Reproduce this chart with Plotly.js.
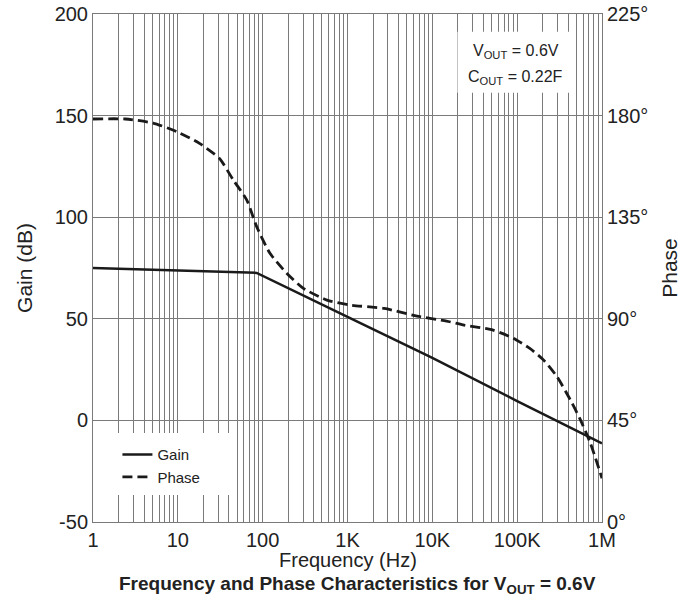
<!DOCTYPE html>
<html>
<head>
<meta charset="utf-8">
<script src="https://cdn.plot.ly/plotly-3.0.1.min.js"></script>
<style>html,body{margin:0;padding:0;background:#fff;}#chart{width:695px;height:602px;}</style>
</head>
<body>
<div id="chart"></div>
<script>
// Gain curve (dB) vs frequency (Hz)
var gainFreq = [1, 85, 1000, 10000, 100000, 1000000];
var gainDb   = [75, 72.6, 51, 30.8, 9.5, -11.3];

// Phase curve (degrees) vs frequency (Hz)
var phaseFreq = [1, 2.4, 5.1, 9.7, 18, 31, 45, 65, 85, 122, 192, 302, 572, 1070, 2700, 6600, 14700, 23000, 52000, 90000, 141000, 204000, 294000, 425000, 557000, 730000, 1000000];
var phaseDeg  = [178.5, 178.5, 176.7, 172.9, 167.7, 161, 151.5, 142.6, 130.8, 119, 110.2, 103.5, 98.3, 96.1, 94.6, 91.2, 89, 87.3, 85, 81.4, 76.9, 71.8, 64.4, 54, 45.2, 34.9, 19.4];

// Axis ticks
var decadeVals = [1, 10, 100, 1000, 10000, 100000, 1000000];
var decadeText = ['1', '10', '100', '1K', '10K', '100K', '1M'];
var gainTicks  = [-50, 0, 50, 100, 150, 200];
var gainText   = ['-50', '0', '50', '100', '150', '200'];
var phaseTicks = [0, 45, 90, 135, 180, 225];
var phaseText  = ['0°', '45°', '90°', '135°', '180°', '225°'];

var xVals = [], xText = [];
for (var d = 0; d < decadeVals.length; d++) {
  xVals.push(decadeVals[d]); xText.push(decadeText[d]);
  if (d < decadeVals.length - 1) {
    for (var m = 2; m <= 9; m++) { xVals.push(decadeVals[d] * m); xText.push(''); }
  }
}

var font = 'Liberation Sans, Arial, sans-serif';
var grid = '#7a7a7a';
var txt = '#222';

var traces = [
  {x: gainFreq, y: gainDb, type: 'scatter', mode: 'lines', name: 'Gain',
   line: {color: '#1a1a1a', width: 2.5}, yaxis: 'y'},
  {x: phaseFreq, y: phaseDeg, type: 'scatter', mode: 'lines', name: 'Phase',
   line: {color: '#1a1a1a', width: 2.8, dash: '10px,5px', shape: 'spline', smoothing: 0.6}, yaxis: 'y2'}
];

var layout = {
  width: 695, height: 602,
  margin: {l: 93, r: 93, t: 14, b: 80},
  paper_bgcolor: '#fff', plot_bgcolor: '#fff',
  font: {family: font, color: txt},
  showlegend: true,
  legend: {x: 0.048, y: 0.165, xanchor: 'left', yanchor: 'top', bgcolor: 'rgba(0,0,0,0)',
           font: {size: 15, family: font, color: txt}, tracegroupgap: 0},
  xaxis: {type: 'log', range: [0, 6], tickvals: xVals, ticktext: xText,
          showgrid: true, gridcolor: grid, gridwidth: 1,
          showline: true, linecolor: grid, linewidth: 1, mirror: true,
          ticks: '', tickfont: {size: 20, family: font, color: txt},
          zeroline: false},
  yaxis: {range: [-50, 200], tickvals: gainTicks, ticktext: gainText, showgrid: true, gridcolor: grid, gridwidth: 1,
          showline: true, linecolor: grid, linewidth: 1, ticks: '',
          tickfont: {size: 20, family: font, color: txt},
          title: {text: 'Gain (dB)', font: {size: 21, family: font, color: txt}, standoff: 16},
          zeroline: false},
  yaxis2: {range: [0, 225], tickvals: phaseTicks, ticktext: phaseText, overlaying: 'y', side: 'right',
           showgrid: false, showline: true, linecolor: grid, linewidth: 1, ticks: '',
           tickfont: {size: 20, family: font, color: txt},
           title: {text: 'Phase', font: {size: 21, family: font, color: txt}, standoff: 14},
           zeroline: false},
  shapes: [
    {type: 'rect', xref: 'paper', yref: 'paper', x0: 0.003, x1: 0.268, y0: 0.053, y1: 0.175,
     fillcolor: '#fff', line: {width: 0}, layer: 'above'},
    {type: 'rect', xref: 'paper', yref: 'paper', x0: 0.716, x1: 0.946, y0: 0.845, y1: 0.965,
     fillcolor: '#fff', line: {width: 0}, layer: 'above'}
  ],
  annotations: [
    {xref: 'paper', yref: 'paper', x: 0.831, y: 0.926, xanchor: 'center', yanchor: 'middle',
     text: 'V<sub>OUT</sub> = 0.6V', showarrow: false,
     font: {size: 16, family: font, color: txt}},
    {xref: 'paper', yref: 'paper', x: 0.831, y: 0.875, xanchor: 'center', yanchor: 'middle',
     text: 'C<sub>OUT</sub> = 0.22F', showarrow: false,
     font: {size: 16, family: font, color: txt}},
    {xref: 'paper', yref: 'paper', x: 0.5, y: -0.074, xanchor: 'center', yanchor: 'middle',
     text: 'Frequency (Hz)', showarrow: false,
     font: {size: 20, family: font, color: txt}},
    {xref: 'paper', yref: 'paper', x: 0.52, y: -0.124, xanchor: 'center', yanchor: 'middle',
     text: '<b>Frequency and Phase Characteristics for V<sub>OUT</sub> = 0.6V</b>', showarrow: false,
     font: {size: 19, family: font, color: txt}}
  ]
};

Plotly.newPlot('chart', traces, layout, {displayModeBar: false, staticPlot: true});
</script>
</body>
</html>
